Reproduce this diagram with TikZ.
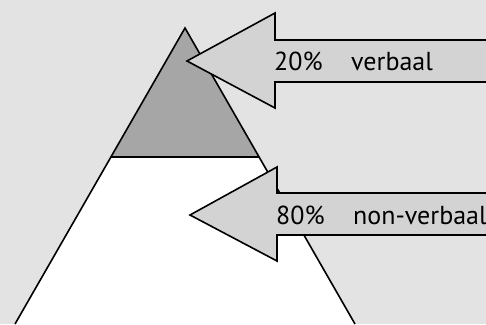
\documentclass[tikz,border=0pt]{standalone}
\usepackage{fontspec}
\setmainfont{PT Sans}
\definecolor{bgc}{HTML}{E3E3E3}
\definecolor{topc}{HTML}{A6A6A6}
\definecolor{arrc}{HTML}{D3D3D3}
\begin{document}
\begin{tikzpicture}[x=1pt,y=-1pt,
  outline/.style={draw=black,line width=1.6pt,line join=miter},
  lbl/.style={anchor=base west,inner sep=0pt,font=\fontsize{26}{30}\selectfont}]
\useasboundingbox (0,0) rectangle (486,324);
\clip (0,0) rectangle (486,324);
\fill[bgc] (0,0) rectangle (486,324);
% pyramid
\fill[topc] (185,28) -- (110.8,157) -- (259.2,157) -- cycle;
\fill[white] (110.8,157) -- (259.2,157) -- (355,324) -- (15,324) -- cycle;
\draw[outline] (15,324) -- (185,28) -- (355,324);
\draw[outline] (110.8,157) -- (259.2,157);
% arrow 1
\filldraw[outline,fill=arrc] (495,40) -- (275,40) -- (275,13) -- (187,61) -- (275,108) -- (275,82) -- (495,82);
% arrow 2
\filldraw[outline,fill=arrc] (495,193) -- (277,193) -- (277,167) -- (190,215) -- (277,261) -- (277,235) -- (495,235);
\node[lbl] (p1) at (274,70) {20\%};
\node[lbl] (t1) at (351,70) {verbaal};
\node[lbl] (p2) at (276,224) {80\%};
\node[lbl] (t2) at (353,224) {non-verbaal};
\end{tikzpicture}
\end{document}
